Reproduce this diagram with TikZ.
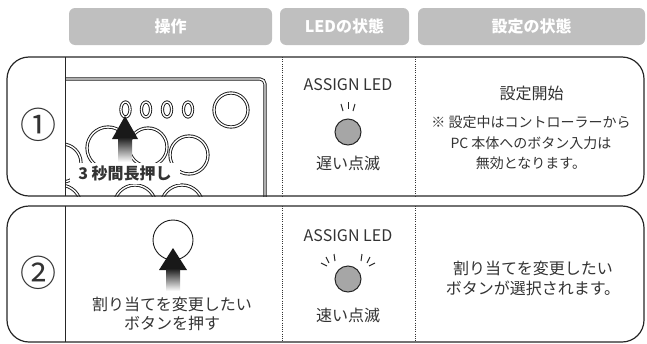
\documentclass[tikz,border=0pt]{standalone}
\usepackage{fontspec}
\newfontfamily\jp{Noto Sans CJK JP}
\usetikzlibrary{calc,positioning}

\begin{document}
\begin{tikzpicture}[
  x=1pt,
  y=-1pt,
  font=\jp,
  text=black!80
]

  \tikzstyle{tabnode}=[fill=black!25,rounded corners=6pt,minimum height=37pt,inner sep=0pt,text=white,font=\jp\bfseries\fontsize{16}{18}\selectfont]
  \tikzstyle{rowpanel}=[draw=black!85,line width=1.2pt,rounded corners=22pt]
  \tikzstyle{colrule}=[draw=black!85,line width=0.9pt]
  \tikzstyle{dotrule}=[draw=black!80,line width=0.9pt,dash pattern=on 0.9pt off 1.3pt]
  \tikzstyle{numnode}=[inner sep=0pt,font=\jp\fontsize{36}{36}\selectfont]
  \tikzstyle{txtnode}=[inner sep=0pt,align=center,font=\jp\fontsize{16}{20}\selectfont]
  \tikzstyle{notenode}=[inner sep=0pt,align=center,font=\jp\fontsize{14}{20.7}\selectfont]
  \tikzstyle{lednode}=[draw=black!85,fill=black!35,circle,line width=1pt,minimum size=26pt,inner sep=0pt]
  \tikzstyle{ray}=[draw=black!85,line width=1pt]
  \tikzstyle{ring}=[draw=black!90,double=white,double distance=1.4pt,line width=0.9pt]
  \tikzstyle{pushtip}=[fill=black!90]
  \tikzstyle{pushshaft}=[top color=black!85,bottom color=white]
  \tikzstyle{holdlab}=[fill=white,inner xsep=8pt,inner ysep=3pt,font=\jp\bfseries\fontsize{16}{18}\selectfont]

  \useasboundingbox (0,0) rectangle (647,343);

  % header
  \node[tabnode,minimum width=203pt] (tabop)  at (170.5,26.5) {操作};
  \node[tabnode,minimum width=129pt] (tabled) at (344.5,26.5) {LEDの状態};
  \node[tabnode,minimum width=227pt] (tabset) at (531.5,26.5) {設定の状態};

  % row 1: controller
  \begin{scope}
    \clip (65,57) rectangle (282,196);
    \draw[ring,rounded corners=5pt] (20,79) rectangle (265,260);
    \draw[ring] (125.5,109.5) ellipse (4.6 and 7.5);
    \draw[ring] (146,109.5) ellipse (4.6 and 7.5);
    \draw[ring] (167,109.5) ellipse (4.6 and 7.5);
    \draw[ring] (188,109.5) ellipse (4.6 and 7.5);
    \draw[ring] (231,110) circle (17);
    \draw[ring] (62,163) circle (19);
    \draw[ring] (108,148) circle (21);
    \draw[ring] (148,147) circle (19);
    \draw[ring] (189,155) circle (19);
    \draw[ring] (60,206) circle (21);
    \draw[ring] (135,206) circle (21);
    \draw[ring] (182,206) circle (21);
    \fill[pushtip] (125,116) -- (138,139) -- (112,139) -- cycle;
    \shade[pushshaft] (118.5,138.5) rectangle (132,162);
  \end{scope}
  \node[holdlab] (hold) at (125,173.5) {3 秒間長押し};

  % row 2: button
  \draw[draw=black!90,line width=0.9pt] (173,240) circle (20);
  \fill[pushtip] (173,248) -- (187,270) -- (159,270) -- cycle;
  \shade[pushshaft] (166,269.5) rectangle (180,291);
  \node[txtnode,font=\jp\fontsize{16}{18.5}\selectfont] (press) at (172,314) {割り当てを変更したい\\ボタンを押す};

  % rows
  \draw[rowpanel] (7,57) rectangle (644,196);
  \draw[rowpanel] (7,206) rectangle (644,342);
  \draw[colrule] (65,57) -- (65,196);
  \draw[colrule] (65,206) -- (65,342);
  \draw[dotrule] (282,57) -- (282,196);
  \draw[dotrule] (415,57) -- (415,196);
  \draw[dotrule] (282,206) -- (282,342);
  \draw[dotrule] (415,206) -- (415,342);

  \node[numnode] (num1) at (38,125) {①};
  \node[numnode] (num2) at (38,273) {②};

  % LED column
  \node[txtnode] (assign1) at (348,85) {ASSIGN LED};
  \node[lednode] (led1) at (348,132) {};
  \node[txtnode] (slow) at (348,163.5) {遅い点滅};
  \draw[ray] ($(led1)+(-7,-28)$) -- ($(led1)+(-5,-21)$);
  \draw[ray] ($(led1)+(0,-30)$)  -- ($(led1)+(0,-23)$);
  \draw[ray] ($(led1)+(7,-28)$)  -- ($(led1)+(5,-21)$);

  \node[txtnode] (assign2) at (348,236) {ASSIGN LED};
  \node[lednode] (led2) at (348,279) {};
  \node[txtnode] (fast) at (348,315) {速い点滅};
  \draw[ray] ($(led2)+(-27,-16)$) -- ($(led2)+(-21,-13)$);
  \draw[ray] ($(led2)+(-22,-22)$) -- ($(led2)+(-19,-16)$);
  \draw[ray] ($(led2)+(-14,-25)$) -- ($(led2)+(-13,-18)$);
  \draw[ray] ($(led2)+(27,-16)$)  -- ($(led2)+(21,-13)$);
  \draw[ray] ($(led2)+(22,-22)$)  -- ($(led2)+(19,-16)$);
  \draw[ray] ($(led2)+(14,-25)$)  -- ($(led2)+(13,-18)$);

  % setting column
  \node[txtnode] (start) at (531.5,93.5) {設定開始};
  \node[notenode] (note) at (531,143) {※ 設定中はコントローラーから\\PC 本体へのボタン入力は\\無効となります。};
  \node[txtnode] (chosen) at (533,278) {割り当てを変更したい\\ボタンが選択されます。};

\end{tikzpicture}
\end{document}
